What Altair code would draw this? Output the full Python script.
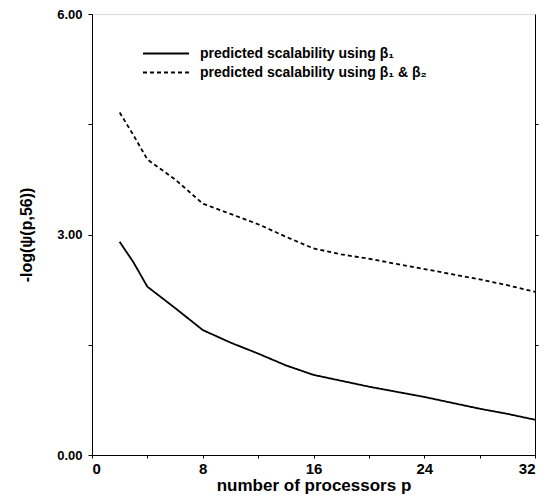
import altair as alt
import pandas as pd

p_vals = [2, 3, 4, 6, 8, 10, 12, 14, 16, 18, 20, 22, 24, 26, 28, 30, 32]
beta1 = [2.90, 2.62, 2.29, 2.00, 1.70, 1.53, 1.38, 1.22, 1.09, 1.01, 0.93, 0.86, 0.79, 0.71, 0.63, 0.56, 0.48]
beta12 = [4.66, 4.35, 4.02, 3.75, 3.42, 3.28, 3.14, 2.97, 2.81, 2.73, 2.67, 2.60, 2.53, 2.46, 2.39, 2.31, 2.22]
series_names = ["predicted scalability using β₁", "predicted scalability using β₁ & β₂"]

rows = []
for p, a, b in zip(p_vals, beta1, beta12):
    rows.append({"p": p, "v": a, "s": series_names[0]})
    rows.append({"p": p, "v": b, "s": series_names[1]})
df = pd.DataFrame(rows)

FONT = "Liberation Sans"

x = alt.X("p:Q", scale=alt.Scale(domain=[0, 32], nice=False),
          axis=alt.Axis(values=[0, 4, 8, 12, 16, 20, 24, 28, 32],
                        labelExpr="datum.value % 8 == 0 ? datum.value : ''",
                        title="number of processors p", grid=False,
                        tickSize=3, tickColor="black", domainColor="black",
                        labelFontSize=15, labelFontWeight="bold", labelFont=FONT,
                        labelColor="black", labelPadding=3,
                        titleFontSize=17, titleFontWeight="bold", titleFont=FONT,
                        titleColor="black", titlePadding=1))
y = alt.Y("v:Q", scale=alt.Scale(domain=[0, 6], nice=False),
          axis=alt.Axis(values=[0, 1.5, 3, 4.5, 6],
                        labelExpr="datum.value % 3 == 0 ? format(datum.value, '.2f') : ''",
                        title="-log(ψ(p,56))", grid=False,
                        tickSize=4, tickColor="black", domainColor="black",
                        labelFontSize=13, labelFontWeight="bold", labelFont=FONT,
                        labelColor="black", labelPadding=6,
                        titleFontSize=16, titleFontWeight="bold", titleFont=FONT,
                        titleColor="black", titlePadding=22))

lines = alt.Chart(df).mark_line(color="black", strokeWidth=1.8).encode(
    x=x, y=y,
    strokeDash=alt.StrokeDash("s:N",
        scale=alt.Scale(domain=series_names, range=[[1, 0], [4, 3]]),
        legend=alt.Legend(title=None, orient="none", legendX=50, legendY=30,
                          symbolType="stroke", symbolSize=2116, symbolStrokeWidth=1.8,
                          symbolStrokeColor="black", clipHeight=19, rowPadding=0,
                          labelFontSize=14, labelFontWeight="bold", labelFont=FONT,
                          labelColor="black", labelLimit=400, labelOffset=10)),
    detail="s:N",
)

right_axis = alt.Chart(df).mark_point(opacity=0).encode(
    x=alt.X("p:Q"),
    y=alt.Y("v:Q", scale=alt.Scale(domain=[0, 6], nice=False),
            axis=alt.Axis(orient="right", values=[1.5, 3, 4.5], labels=False,
                          title=None, tickSize=3, tickColor="black",
                          domainColor="black", grid=False)),
)

chart = alt.layer(lines, right_axis).resolve_scale(y="independent").properties(
    width=443, height=441,
    autosize=alt.AutoSizeParams(type="none"),
    padding={"left": 84, "top": 6, "right": 5, "bottom": 40},
).configure_view(stroke="black", strokeWidth=1).configure(background="white")

chart.save("out.html", embed_options={"renderer": "svg", "actions": False})
